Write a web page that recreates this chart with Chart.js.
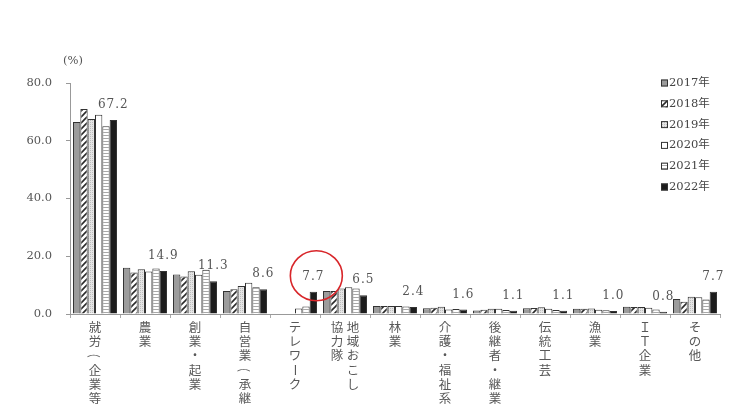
<!DOCTYPE html>
<html lang="ja">
<head>
<meta charset="utf-8">
<script src="https://cdn.jsdelivr.net/npm/chart.js@4.4.1/dist/chart.umd.min.js"></script>
<style>
  html, body { margin: 0; padding: 0; background: #fff; }
  #wrap { width: 731px; height: 409px; }
</style>
</head>
<body>
<div id="wrap"><canvas id="c" width="731" height="409"></canvas></div>
<script>
// Categories (axis labels), and the same labels split into vertical text columns
const categories = ['就労(企業等)', '農業', '創業・起業', '自営業(承継)', 'テレワーク', '地域おこし協力隊',
  '林業', '介護・福祉系', '後継者・継業', '伝統工芸', '漁業', 'ＩＴ企業', 'その他'];
const labelColumns = [['就労(企業等)'], ['農業'], ['創業・起業'], ['自営業(承継)'], ['テレワーク'],
  ['地域おこし', '協力隊'], ['林業'], ['介護・福祉系'], ['後継者・継業'], ['伝統工芸'], ['漁業'], ['ＩＴ企業'], ['その他']];

const years = ['2017年', '2018年', '2019年', '2020年', '2021年', '2022年'];

// Share of respondents (%) by year
const v2017 = [66.5, 16.0, 13.7, 8.0, null, 8.0, 2.8, 2.0, 1.2, 2.0, 1.8, 2.5, 5.2];
const v2018 = [71.0, 14.4, 13.0, 8.6, null, 8.0, 2.8, 2.2, 1.5, 2.1, 1.8, 2.4, 4.2];
const v2019 = [67.5, 15.5, 14.8, 9.7, null, 8.8, 2.8, 2.5, 1.8, 2.3, 1.9, 2.4, 6.0];
const v2020 = [69.0, 14.7, 13.6, 10.8, 1.9, 9.3, 2.8, 1.6, 1.8, 1.8, 1.5, 2.2, 5.8];
const v2021 = [65.0, 15.8, 15.3, 9.3, 2.6, 8.8, 2.6, 1.7, 1.4, 1.4, 1.3, 1.6, 5.0];
const v2022 = [67.2, 14.9, 11.3, 8.6, 7.7, 6.5, 2.4, 1.6, 1.1, 1.1, 1.0, 0.8, 7.7];

const yTicks = [0, 20, 40, 60, 80];

// ---- fill patterns for the year series ----
function makePattern(size, paint) {
  const cv = document.createElement('canvas');
  cv.width = size; cv.height = size;
  const g = cv.getContext('2d');
  paint(g, size);
  return g.createPattern(cv, 'repeat');
}
const ctx = document.getElementById('c').getContext('2d');
const fill2017 = '#9c9c9c';
const fill2018 = makePattern(6, (g, s) => {
  g.fillStyle = '#fff'; g.fillRect(0, 0, s, s);
  g.strokeStyle = '#2a2a2a'; g.lineWidth = 1.6;
  g.beginPath();
  g.moveTo(-1, s + 1); g.lineTo(s + 1, -1);
  g.moveTo(-1, 1); g.lineTo(1, -1);
  g.moveTo(s - 1, s + 1); g.lineTo(s + 1, s - 1);
  g.stroke();
});
const fill2019 = makePattern(2, (g, s) => {
  g.fillStyle = '#e4e4e4'; g.fillRect(0, 0, s, s);
  g.fillStyle = '#bdbdbd'; g.fillRect(0, 0, 1, 1);
});
const fill2020 = '#ffffff';
const fill2021 = makePattern(3, (g, s) => {
  g.fillStyle = '#fff'; g.fillRect(0, 0, s, s);
  g.fillStyle = '#a8a8a8'; g.fillRect(0, 0, s, 1);
});
const fill2022 = '#1c1c1c';

const series = [v2017, v2018, v2019, v2020, v2021, v2022];
const fills = [fill2017, fill2018, fill2019, fill2020, fill2021, fill2022];

const SERIF = '"DejaVu Serif", "Liberation Serif", serif';
const CJK = '"Noto Sans CJK JP", "Noto Sans", sans-serif';

// Vertical Japanese category labels under the x axis
const verticalLabels = {
  id: 'verticalLabels',
  afterDraw(chart) {
    const c = chart.ctx, xs = chart.scales.x;
    const step = 14.3, colGap = 16, y0 = 327;
    c.save();
    c.fillStyle = '#585858';
    c.font = '12.5px ' + CJK;
    c.textAlign = 'center';
    c.textBaseline = 'middle';
    labelColumns.forEach((cols, i) => {
      const cx = xs.getPixelForValue(i);
      cols.forEach((txt, j) => {
        const x = cx + (cols.length - 1) / 2 * colGap - j * colGap;
        [...txt].forEach((ch, k) => {
          const y = y0 + k * step;
          if ('()（）ー'.includes(ch)) {
            c.save();
            c.translate(x, y);
            c.rotate(Math.PI / 2);
            c.fillText(ch, 0, 0);
            c.restore();
          } else {
            c.fillText(ch, x, y);
          }
        });
      });
    });
    c.restore();
  }
};

// 2022 values printed above the 2022 bars, unit label, highlight ring, legend
const extras = {
  id: 'extras',
  afterDatasetsDraw(chart) {
    const c = chart.ctx;
    const meta = chart.getDatasetMeta(5);
    c.save();
    c.fillStyle = '#555';
    c.font = '12px ' + SERIF;
    c.textAlign = 'center';
    c.textBaseline = 'middle';
    if ('letterSpacing' in c) c.letterSpacing = '1px';
    let ring = null;
    meta.data.forEach((el, i) => {
      const v = v2022[i];
      const ly = el.y - 15;
      c.fillText(v.toFixed(1), el.x, ly);
      if (categories[i] === 'テレワーク') ring = { x: el.x + 3, y: ly - 1 };
    });
    if ('letterSpacing' in c) c.letterSpacing = '0px';

    // unit label above the y axis
    c.font = '11.5px ' + SERIF;
    c.fillStyle = '#555';
    c.textAlign = 'left';
    c.fillText('(%)', 63, 61);

    // highlight ring around the telework value
    if (ring) {
      c.strokeStyle = '#d8262a';
      c.lineWidth = 1.6;
      c.beginPath();
      c.ellipse(ring.x, ring.y, 26, 25, 0, 0, Math.PI * 2);
      c.stroke();
    }

    // legend
    c.font = '11.5px ' + SERIF + ', ' + CJK;
    c.textBaseline = 'middle';
    years.forEach((yr, i) => {
      const y = 83 + i * 20.8;
      c.fillStyle = fills[i];
      c.fillRect(661, y - 3.5, 7, 7);
      c.strokeStyle = '#333';
      c.lineWidth = 1;
      c.strokeRect(661.5, y - 3, 6, 6);
      c.fillStyle = '#444';
      c.fillText(yr, 669, y);
    });
    c.restore();
  }
};

new Chart(ctx, {
  type: 'bar',
  data: {
    labels: categories,
    datasets: series.map((vals, i) => ({
      label: years[i],
      data: vals,
      backgroundColor: fills[i],
      borderColor: '#333',
      borderWidth: 1,
      borderSkipped: 'bottom',
      categoryPercentage: 0.88,
      barPercentage: 1.0
    }))
  },
  options: {
    responsive: false,
    animation: false,
    devicePixelRatio: 1,
    layout: { padding: { left: 0, right: 11, top: 83, bottom: 0 } },
    plugins: {
      legend: { display: false },
      tooltip: { enabled: false }
    },
    scales: {
      x: {
        grid: { display: true, drawOnChartArea: false, drawTicks: true, tickLength: 4, color: '#aaa', offset: true },
        border: { display: true, color: '#999', width: 1 },
        ticks: { display: false },
        afterFit(s) { s.height = 95; }
      },
      y: {
        min: 0, max: 80,
        afterBuildTicks(s) { s.ticks = yTicks.map(v => ({ value: v })); },
        grid: { display: true, drawOnChartArea: false, drawTicks: true, tickLength: 4, color: '#999' },
        border: { display: true, color: '#999', width: 1 },
        ticks: {
          padding: 14,
          color: '#555',
          font: { family: SERIF, size: 11.5 },
          callback: v => Number(v).toFixed(1)
        },
        afterFit(s) { s.width = 70; }
      }
    }
  },
  plugins: [verticalLabels, extras]
});
</script>
</body>
</html>
